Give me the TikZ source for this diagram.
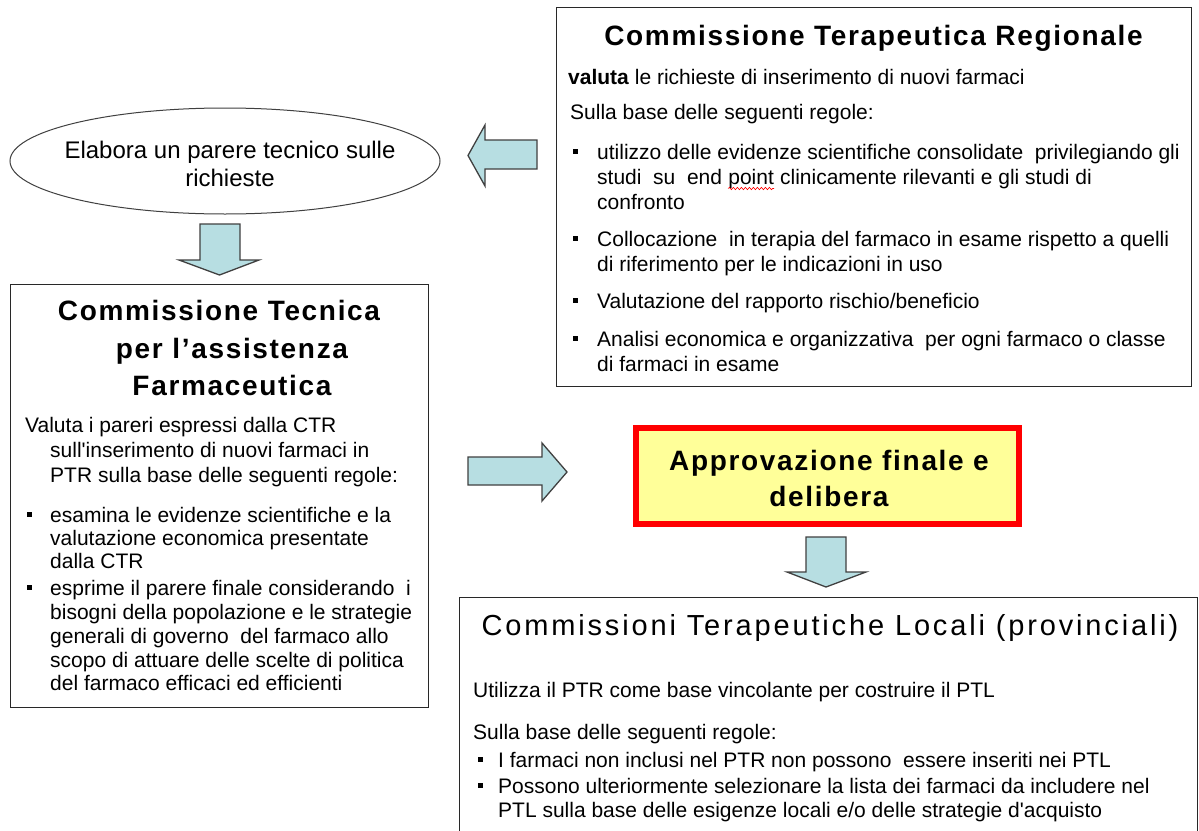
\documentclass[tikz,border=0pt]{standalone}
\usepackage{fontspec}
\setmainfont{Liberation Sans}
\newfontfamily\ttlfont[LetterSpace=6]{Liberation Sans}
\newfontfamily\ttlregfont[LetterSpace=9.8]{Liberation Sans}
\usetikzlibrary{shapes.geometric,decorations.pathmorphing}
\definecolor{arrowfill}{RGB}{183,222,226}
\definecolor{arrowline}{RGB}{64,64,64}
\definecolor{boxline}{RGB}{40,40,40}
\definecolor{apprfill}{RGB}{255,255,153}
\tikzset{
  body/.style={font=\fontsize{21}{25}\selectfont, inner sep=0pt, anchor=base west},
  ttl/.style={font=\ttlfont\bfseries\fontsize{28}{32}\selectfont, inner sep=0pt, anchor=base},
  ttlreg/.style={font=\ttlregfont\fontsize{29}{33}\selectfont, inner sep=0pt, anchor=base},
  frame/.style={draw=boxline, line width=1.3pt, rectangle, inner sep=0pt, anchor=north west},
  bul/.style={fill=black, rectangle, minimum size=5pt, inner sep=0pt},
  blockarrow/.style={draw=arrowline, fill=arrowfill, line width=1.3pt, line join=miter},
  spell/.style={draw=red, line width=0.6pt, decorate, decoration={snake, amplitude=1.2pt, segment length=4pt}}
}
\begin{document}
\begin{tikzpicture}[x=1pt,y=-1pt]
\useasboundingbox (0,0) rectangle (1199,830);
\clip (0,0) rectangle (1199,830);
\fill[white] (0,0) rectangle (1199,830);

% ---------- CTR box ----------
\node[frame, minimum width=635pt, minimum height=379pt] (ctr) at (556,7) {};
\node[ttl] (ctrt) at (873.5,45) {Commissione Terapeutica Regionale};
\node[body] (ctrv) at (568,84) {\textbf{valuta} le richieste di inserimento di nuovi farmaci};
\node[body] (ctrs) at (570,119) {Sulla base delle seguenti regole:};
\node[bul] (cb1) at (575.5,151) {};
\node[body] (c1a) at (597,159) {utilizzo delle evidenze scientifiche consolidate\ \ privilegiando gli};
\node[body] (c1b) at (597,184) {studi\ \ su\ \ end};
\node[body] (pt) at ([xshift=5.84pt]c1b.base east) {point};
\node[body] (c1c) at ([xshift=5.84pt]pt.base east) {clinicamente rilevanti e gli studi di};
\draw[spell] ([yshift=-4.5pt]pt.base west) -- ([yshift=-4.5pt]pt.base east);
\node[body] (c1d) at (597,209) {confronto};
\node[bul] (cb2) at (575.5,238) {};
\node[body] (c2a) at (597,246) {Collocazione\ \ in terapia del farmaco in esame rispetto a quelli};
\node[body] (c2b) at (597,271) {di riferimento per le indicazioni in uso};
\node[bul] (cb3) at (575.5,300) {};
\node[body] (c3a) at (597,308) {Valutazione del rapporto rischio/beneficio};
\node[bul] (cb4) at (575.5,338) {};
\node[body] (c4a) at (597,346) {Analisi economica e organizzativa\ \ per ogni farmaco o classe};
\node[body] (c4b) at (597,371) {di farmaci in esame};

% ---------- ellipse ----------
\node[inner sep=0pt, align=center, font=\fontsize{24}{28}\selectfont] (ell) at (230,164)
      {Elabora un parere tecnico sulle\\richieste};
\draw[draw=arrowline, line width=1pt] (225,161) ellipse [x radius=215, y radius=53];

% ---------- block arrows ----------
\draw[blockarrow] (537,140) -- (485,140) -- (485,125) -- (468,155.5) -- (485,186) -- (485,169) -- (537,169) -- cycle;
\draw[blockarrow] (200,224) -- (240,224) -- (240,260) -- (259,260) -- (219.5,275) -- (179,260) -- (200,260) -- cycle;
\draw[blockarrow] (468,457) -- (542,457) -- (542,443) -- (567,472) -- (542,501) -- (542,485) -- (468,485) -- cycle;
\draw[blockarrow] (806,537) -- (846,537) -- (846,572) -- (866,572) -- (826,587) -- (787,572) -- (806,572) -- cycle;

% ---------- CTF box ----------
\node[frame, minimum width=418pt, minimum height=423pt] (ctf) at (10,284) {};
\node[ttl] (ctft1) at (219,320) {Commissione Tecnica};
\node[ttl] (ctft2) at (232,358) {per l’assistenza};
\node[ttl] (ctft3) at (232,395) {Farmaceutica};
\node[body] (f0a) at (25,432) {Valuta i pareri espressi dalla CTR};
\node[body] (f0b) at (50,457) {sull\textquotesingle inserimento di nuovi farmaci in};
\node[body] (f0c) at (50,482) {PTR sulla base delle seguenti regole:};
\node[bul] (fb1) at (29.5,514) {};
\node[body] (f1a) at (50,522) {esamina le evidenze scientifiche e la};
\node[body] (f1b) at (50,545) {valutazione economica presentate};
\node[body] (f1c) at (50,568) {dalla CTR};
\node[bul] (fb2) at (29.5,587) {};
\node[body] (f2a) at (50,595) {esprime il parere finale considerando\ \ i};
\node[body] (f2b) at (50,619) {bisogni della popolazione e le strategie};
\node[body] (f2c) at (50,643) {generali di governo\ \ del farmaco allo};
\node[body] (f2d) at (50,667) {scopo di attuare delle scelte di politica};
\node[body] (f2e) at (50,690) {del farmaco efficaci ed efficienti};

% ---------- Approvazione ----------
\node[draw=red, line width=6pt, fill=apprfill, rectangle, minimum width=383pt, minimum height=96pt, inner sep=0pt] (appr) at (827.5,476) {};
\node[ttl] (appr1) at (829,470) {Approvazione finale e};
\node[ttl] (appr2) at (829,506) {delibera};

% ---------- CTL box ----------
\node[frame, minimum width=738pt, minimum height=260pt] (ctl) at (459,597) {};
\node[ttlreg] (ctlt) at (830,635) {Commissioni Terapeutiche Locali (provinciali)};
\node[body] (l0a) at (473,697) {Utilizza il PTR come base vincolante per costruire il PTL};
\node[body] (l0b) at (473,739) {Sulla base delle seguenti regole:};
\node[bul] (lb1) at (480.5,759) {};
\node[body] (l1a) at (498,767) {I farmaci non inclusi nel PTR non possono\ \ essere inseriti nei PTL};
\node[bul] (lb2) at (480.5,785) {};
\node[body] (l2a) at (498,793) {Possono ulteriormente selezionare la lista dei farmaci da includere nel};
\node[body] (l2b) at (498,817) {PTL sulla base delle esigenze locali e/o delle strategie d\textquotesingle acquisto};
\end{tikzpicture}
\end{document}
